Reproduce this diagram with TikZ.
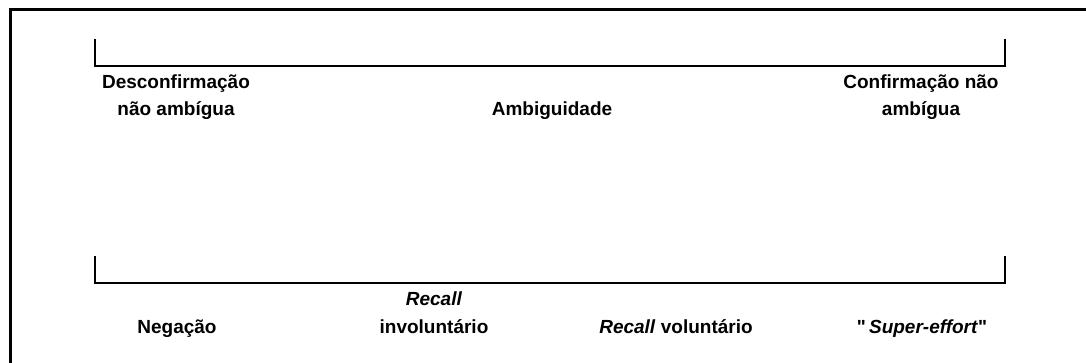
\documentclass[tikz,border=0pt]{standalone}
\usepackage{fontspec}
\setmainfont{Liberation Sans}
\usetikzlibrary{positioning}

\begin{document}
\begin{tikzpicture}[x=1pt,y=-1pt,
    lbl/.style={font=\bfseries\fontsize{19}{27.5}\selectfont, align=center, inner sep=0pt, anchor=base},
    scalebar/.style={line width=2pt}]
  \useasboundingbox (0,0) rectangle (1086,362);
  \begin{scope}
    \clip (0,0) rectangle (1086,362);
    \draw[line width=2.5pt] (10.5,9.5) rectangle (1100,380);
  \end{scope}
  % upper scale
  \coordinate (tl) at (95,39);
  \coordinate (tr) at (1005,39);
  \draw[scalebar] (tl) -- (tl |- 0,66) -- (tr |- 0,66) -- (tr);
  \node[lbl] (desconf) at (176,115.5) {Desconfirmação\\não ambígua};
  \node[lbl] (ambig) at (552,115.5) {Ambiguidade};
  \node[lbl] (conf) at (921,115.5) {Confirmação não\\ambígua};
  % lower scale
  \coordinate (bl) at (95,256);
  \coordinate (br) at (1005,256);
  \draw[scalebar] (bl) -- (bl |- 0,283) -- (br |- 0,283) -- (br);
  \node[lbl] (neg) at (177,333) {Negação};
  \node[lbl] (invol) at (434,333) {\textit{Recall}\\involuntário};
  \node[lbl] (vol) at (676,333) {\textit{Recall} voluntário};
  \node[lbl] (super) at (922,333) {\textquotedbl\,\textit{Super-effort}\/\textquotedbl};
\end{tikzpicture}
\end{document}
